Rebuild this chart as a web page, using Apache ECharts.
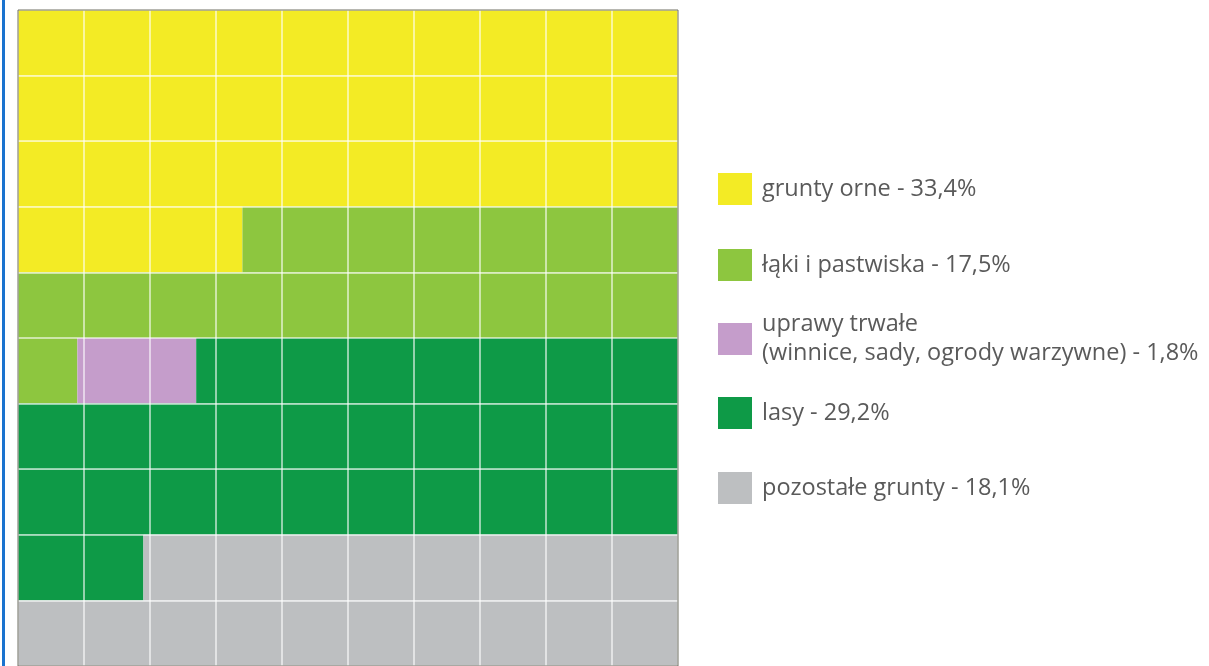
<!DOCTYPE html>
<html>
<head>
<meta charset="utf-8">
<script src="https://cdn.jsdelivr.net/npm/echarts@6/dist/echarts.min.js"></script>
<style>
  html, body { margin: 0; padding: 0; background: #ffffff; }
  #chart { width: 1209px; height: 666px; }
  #frame { position: absolute; left: 2px; top: 0; width: 3px; height: 666px; background: #1a73cf; }
</style>
</head>
<body>
<div id="chart"></div>
<div id="frame"></div>
<script>
const categories = ['grunty orne', 'łąki i pastwiska', 'uprawy trwałe\n(winnice, sady, ogrody warzywne)', 'lasy', 'pozostałe grunty'];
const values = [33.4, 17.5, 1.8, 29.2, 18.1];
const colors = ['#f3eb25', '#8dc63f', '#c59dcb', '#0e9a47', '#bdbfc1'];
const legendCenters = [189, 265, 339, 413, 488];

const chart = echarts.init(document.getElementById('chart'));

function segmentsFor(start, end) {
  const segs = [];
  let s = start;
  while (s < end - 1e-9) {
    const row = Math.floor(s / 10 + 1e-9);
    const rowEnd = Math.min(end, (row + 1) * 10);
    segs.push([s - row * 10, rowEnd - row * 10, row]);
    s = rowEnd;
  }
  return segs;
}

let cum = 0;
const series = categories.map((name, i) => {
  const start = cum;
  cum += values[i];
  return {
    type: 'custom',
    name: name,
    itemStyle: { color: colors[i] },
    encode: { x: [0, 1], y: 2 },
    data: segmentsFor(start, cum),
    renderItem: function (params, api) {
      const p0 = api.coord([api.value(0), api.value(2)]);
      const p1 = api.coord([api.value(1), api.value(2) + 1]);
      return {
        type: 'rect',
        shape: {
          x: Math.min(p0[0], p1[0]),
          y: Math.min(p0[1], p1[1]),
          width: Math.abs(p1[0] - p0[0]),
          height: Math.abs(p1[1] - p0[1])
        },
        style: { fill: colors[i] }
      };
    }
  };
});

const legends = categories.map((name, i) => {
  const multi = name.indexOf('\n') >= 0;
  return {
    data: [name],
    left: 713,
    top: multi ? 290 : legendCenters[i] - 21,
    icon: 'rect',
    itemWidth: 34,
    itemHeight: 32,
    selectedMode: false,
    formatter: function (n) {
      return n + ' - ' + values[i].toFixed(1).replace('.', ',') + '%';
    },
    textStyle: {
      fontFamily: 'Open Sans',
      fontSize: 23.5,
      color: '#5a5a5a',
      lineHeight: 29,
      padding: multi ? [0, 0, 30, 5] : [0, 0, 0, 5]
    }
  };
});

chart.setOption({
  animation: false,
  backgroundColor: '#ffffff',
  grid: {
    left: 18, top: 10, width: 660, height: 660,
    show: true, z: 5,
    backgroundColor: 'transparent',
    borderColor: '#6f6f62', borderWidth: 1
  },
  xAxis: {
    type: 'value', min: 0, max: 10, interval: 1, z: 3,
    axisLine: { show: false }, axisTick: { show: false }, axisLabel: { show: false },
    splitLine: { show: true, lineStyle: { color: 'rgba(255,255,255,0.75)', width: 1.5 } }
  },
  yAxis: {
    type: 'value', min: 0, max: 10, interval: 1, inverse: true, z: 3,
    axisLine: { show: false }, axisTick: { show: false }, axisLabel: { show: false },
    splitLine: { show: true, lineStyle: { color: 'rgba(255,255,255,0.75)', width: 1.5 } }
  },
  legend: legends,
  series: series
});
</script>
</body>
</html>
